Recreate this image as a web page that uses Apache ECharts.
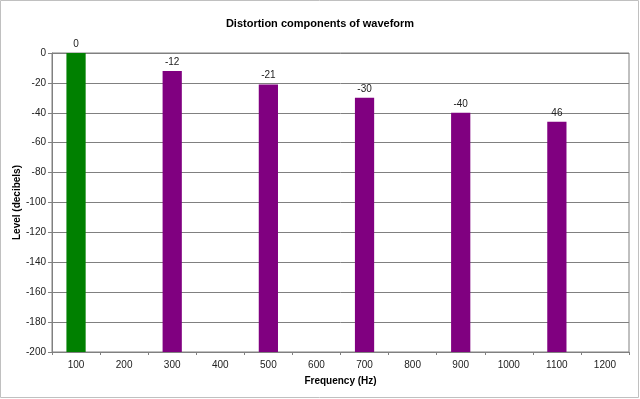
<!DOCTYPE html>
<html>
<head>
<meta charset="utf-8">
<script src="https://cdn.jsdelivr.net/npm/echarts@6/dist/echarts.min.js"></script>
<style>
  html, body { margin: 0; padding: 0; background: #fff; }
  #chart { width: 640px; height: 399px; }
</style>
</head>
<body>
<div id="chart"></div>
<script>
// frequency categories (Hz)
var frequencies = ['100', '200', '300', '400', '500', '600', '700', '800', '900', '1000', '1100', '1200'];
// level of each component (dB), null where there is no component
var levels = [0, null, -12, null, -21, null, -30, null, -40, null, -46, null];
// labels as printed above the bars
var barLabels = ['0', '', '-12', '', '-21', '', '-30', '', '-40', '', '46', ''];
var yTicks = [0, -20, -40, -60, -80, -100, -120, -140, -160, -180, -200];

var chart = echarts.init(document.getElementById('chart'));

var option = {
  backgroundColor: '#fff',
  animation: false,
  textStyle: { fontFamily: 'Liberation Sans, Arial, sans-serif' },
  title: {
    text: 'Distortion components of waveform',
    left: 'center',
    top: 13,
    textStyle: { fontSize: 11, fontWeight: 'bold', color: '#000' }
  },
  graphic: [{
    type: 'rect',
    shape: { x: 0.5, y: 0.5, width: 638, height: 397 },
    style: { fill: 'none', stroke: '#c0c0c0', lineWidth: 1 },
    silent: true
  }],
  grid: {
    left: 52,
    right: 11,
    top: 53,
    bottom: 47,
    show: true,
    borderColor: '#808080',
    borderWidth: 1,
    containLabel: false,
    outerBoundsMode: 'none'
  },
  xAxis: {
    type: 'category',
    data: frequencies,
    name: 'Frequency (Hz)',
    nameLocation: 'middle',
    nameGap: 24,
    nameMoveOverlap: false,
    nameTextStyle: { fontSize: 10, fontWeight: 'bold', color: '#000' },
    axisLine: { onZero: false, lineStyle: { color: '#808080' } },
    axisTick: { show: true, length: 3, lineStyle: { color: '#808080' } },
    axisLabel: { fontSize: 10, color: '#222', margin: 8 },
    splitLine: { show: false }
  },
  yAxis: {
    type: 'value',
    min: yTicks[yTicks.length - 1],
    max: yTicks[0],
    interval: 20,
    name: 'Level (decibels)',
    nameLocation: 'middle',
    nameGap: 30,
    nameMoveOverlap: false,
    nameRotate: 90,
    nameTextStyle: { fontSize: 10, fontWeight: 'bold', color: '#000' },
    axisLine: { show: true, onZero: false, lineStyle: { color: '#808080' } },
    axisTick: { show: true, length: 4, lineStyle: { color: '#808080' } },
    axisLabel: { fontSize: 10, color: '#222', margin: 6 },
    splitLine: { show: true, lineStyle: { color: '#808080' } }
  },
  series: [{
    type: 'custom',
    data: levels.map(function (v, i) { return [i, v]; }),
    renderItem: function (params, api) {
      var v = api.value(1);
      if (v === null || isNaN(v)) return;
      var i = api.value(0);
      var top = api.coord([i, v]);
      var base = api.coord([i, yTicks[yTicks.length - 1]]);
      var w = api.size([1, 0])[0] * 0.4;
      var color = i === 0 ? '#008000' : '#800080';
      return {
        type: 'group',
        children: [{
          type: 'rect',
          shape: { x: top[0] - w / 2, y: top[1], width: w, height: base[1] - top[1] },
          style: { fill: color }
        }, {
          type: 'text',
          style: {
            x: top[0],
            y: top[1] - 4,
            text: barLabels[i],
            textAlign: 'center',
            textVerticalAlign: 'bottom',
            fill: '#222',
            fontSize: 10,
            fontFamily: 'Liberation Sans, Arial, sans-serif'
          }
        }]
      };
    }
  }]
};

chart.setOption(option);
</script>
</body>
</html>
